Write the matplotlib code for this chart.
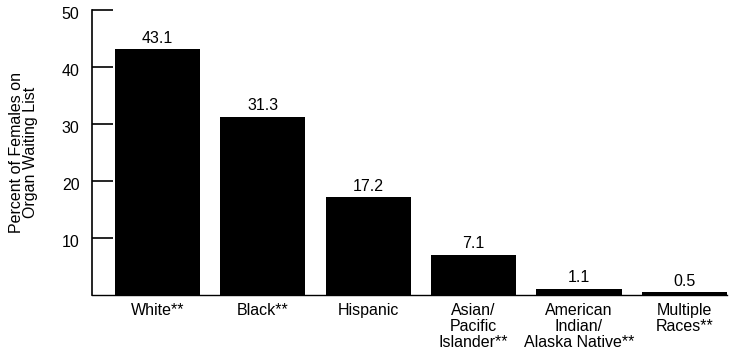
import matplotlib
matplotlib.use("Agg")
import matplotlib.pyplot as plt
import matplotlib.transforms as mtransforms
import numpy as np

plt.rcParams["font.family"] = ["Liberation Sans", "DejaVu Sans"]

CATEGORIES = ["White**", "Black**", "Hispanic", "Asian/\nPacific\nIslander**",
              "American\nIndian/\nAlaska Native**", "Multiple\nRaces**"]
VALUES = [43.1, 31.3, 17.2, 7.1, 1.1, 0.5]
Y_TICKS = [10, 20, 30, 40, 50]
FS = 11.5


def main() -> None:
    fig = plt.figure(figsize=(7.32, 3.55), dpi=100)
    ax = fig.add_axes([0.1257, 0.169, 0.8673, 0.803])

    x = np.arange(len(CATEGORIES))
    width = 0.807
    bars = ax.bar(x, VALUES, width, color="black")
    for b, v in zip(bars, VALUES):
        ax.text(b.get_x() + b.get_width() / 2, v + 0.6, f"{v}", ha="center",
                va="bottom", fontsize=FS)

    ax.set_xlim(-0.622, len(CATEGORIES) - 1 + width / 2)
    ax.set_ylim(0, 50)
    ax.set_yticks(Y_TICKS)
    ax.set_yticklabels([str(t) for t in Y_TICKS], fontsize=FS)
    ax.tick_params(axis="y", direction="in", length=15, width=1.2, pad=9)
    # labels sit a little below their ticks in the original
    shift = mtransforms.ScaledTranslation(0, -3 / 100, fig.dpi_scale_trans)
    for lab in ax.get_yticklabels():
        lab.set_transform(lab.get_transform() + shift)
    ax.set_xticks(x)
    ax.set_xticklabels(CATEGORIES, fontsize=FS, linespacing=1.08, va="top")
    ax.tick_params(axis="x", length=0, pad=6)

    ax.spines["top"].set_visible(False)
    ax.spines["right"].set_visible(False)
    ax.spines["left"].set_linewidth(1.2)
    ax.spines["bottom"].set_linewidth(1.0)

    ax.set_ylabel("Percent of Females on\nOrgan Waiting List", fontsize=FS,
                  linespacing=0.95, labelpad=17)

    fig.savefig("out.png", dpi=100)
    plt.close(fig)


if __name__ == "__main__":
    main()
